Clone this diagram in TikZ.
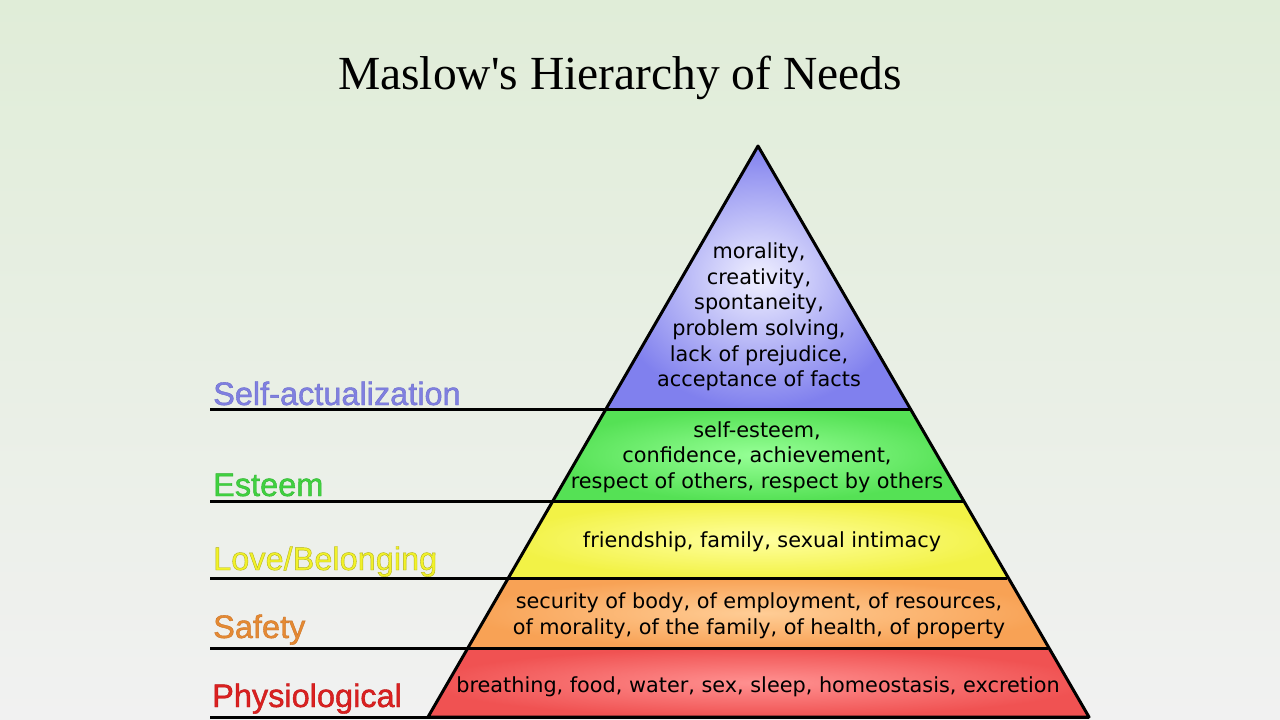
\documentclass[tikz,border=0pt]{standalone}
\usepackage{fontspec}
\setmainfont{Liberation Serif}
\newfontfamily\titlefont[Ligatures=TeXOff]{Liberation Serif}
\newfontfamily\pyrfont{DejaVu Sans}
\newfontfamily\lblfont[FakeBold=1.2]{Liberation Sans}
\definecolor{bgtop}{RGB}{224,237,216}
\definecolor{bgbot}{RGB}{241,241,241}
\definecolor{saIn}{RGB}{240,240,255}
\definecolor{saOut}{RGB}{128,128,238}
\definecolor{esIn}{RGB}{150,255,150}
\definecolor{esOut}{RGB}{85,225,85}
\definecolor{lvIn}{RGB}{255,255,160}
\definecolor{lvOut}{RGB}{242,242,70}
\definecolor{sfIn}{RGB}{255,205,150}
\definecolor{sfOut}{RGB}{248,162,85}
\definecolor{phIn}{RGB}{255,145,145}
\definecolor{phOut}{RGB}{240,82,82}
\definecolor{saTxt}{RGB}{128,128,224}
\definecolor{esTxt}{RGB}{64,208,64}
\definecolor{lvTxt}{RGB}{240,240,40}
\definecolor{sfTxt}{RGB}{228,138,50}
\definecolor{phTxt}{RGB}{216,32,32}
% fill colour and separate stroke colour for the label glyphs
\newcommand{\strokedtext}[3]{\special{pdf:bcolor [#1] [#2]}#3\special{pdf:ecolor}}
\tikzset{
  pyrtext/.style={align=center, inner sep=0pt, text=black,
    font=\pyrfont\fontsize{20.8}{25.6}\selectfont},
  lvllabel/.style={anchor=base west, inner sep=0pt,
    font=\lblfont\fontsize{32.5}{36}\selectfont},
  outline/.style={line width=3pt, line join=round, draw=black},
  levelline/.style={line width=3pt, draw=black}
}
\begin{document}
\begin{tikzpicture}[x=1pt,y=-1pt]
\useasboundingbox (0,0) rectangle (1280,720);
\shade[top color=bgtop, bottom color=bgbot] (0,0) rectangle (1280,720);

\coordinate (apex) at (758,146);
\coordinate (L1) at (607,409); \coordinate (R1) at (910,409);
\coordinate (L2) at (553,501); \coordinate (R2) at (963,501);
\coordinate (L3) at (508,578); \coordinate (R3) at (1007,578);
\coordinate (L4) at (468,648); \coordinate (R4) at (1048,648);
\coordinate (L5) at (428,717); \coordinate (R5) at (1089,717);
\coordinate (E1) at (210,409);
\coordinate (E2) at (210,501);
\coordinate (E3) at (210,578);
\coordinate (E4) at (210,648);
\coordinate (E5) at (210,717);

% band fills
\shade[inner color=saIn, outer color=saOut] (L1) -- (apex) -- (R1) -- cycle;
\shade[inner color=esIn, outer color=esOut] (L2) -- (L1) -- (R1) -- (R2) -- cycle;
\shade[inner color=lvIn, outer color=lvOut] (L3) -- (L2) -- (R2) -- (R3) -- cycle;
\shade[inner color=sfIn, outer color=sfOut] (L4) -- (L3) -- (R3) -- (R4) -- cycle;
\shade[inner color=phIn, outer color=phOut] (L5) -- (L4) -- (R4) -- (R5) -- cycle;

% level lines
\draw[levelline] (E1) -- (R1);
\draw[levelline] (E2) -- (R2);
\draw[levelline] (E3) -- (R3);
\draw[levelline] (E4) -- (R4);
\draw[levelline] (E5) -- (R5);
\draw[outline] (L5) -- (apex) -- (R5) -- cycle;

% title
\node[anchor=base, inner sep=0pt, font=\titlefont\fontsize{47.5}{54}\selectfont] (title) at (620,89) {Maslow's Hierarchy of Needs};

% pyramid texts
\node[pyrtext] (tsa) at (759,317) {morality,\\creativity,\\spontaneity,\\problem solving,\\lack of prejudice,\\acceptance of facts};
\node[pyrtext] (tes) at (757,457) {self-esteem,\\confidence, achievement,\\respect of others, respect by others};
\node[pyrtext] (tlv) at (762,542) {friendship, family, sexual intimacy};
\node[pyrtext] (tsf) at (759,616) {security of body, of employment, of resources,\\of morality, of the family, of health, of property};
\node[pyrtext] (tph) at (758,687) {breathing, food, water, sex, sleep, homeostasis, excretion};

% level labels
\node[lvllabel, text=saTxt] (lsa) at (213,405) {\strokedtext{0.50 0.50 0.88}{0.42 0.42 0.80}{Self-actualization}};
\node[lvllabel, text=esTxt] (les) at (213,496) {\strokedtext{0.25 0.82 0.25}{0.18 0.70 0.18}{Esteem}};
\node[lvllabel, text=lvTxt] (llv) at (213,570) {\strokedtext{0.95 0.95 0.16}{0.70 0.70 0.10}{Love/Belonging}};
\node[lvllabel, text=sfTxt] (lsf) at (213,638) {\strokedtext{0.90 0.54 0.20}{0.80 0.45 0.15}{Safety}};
\node[lvllabel, text=phTxt] (lph) at (212,707) {\strokedtext{0.86 0.13 0.13}{0.75 0.08 0.08}{Physiological}};
\end{tikzpicture}
\end{document}
